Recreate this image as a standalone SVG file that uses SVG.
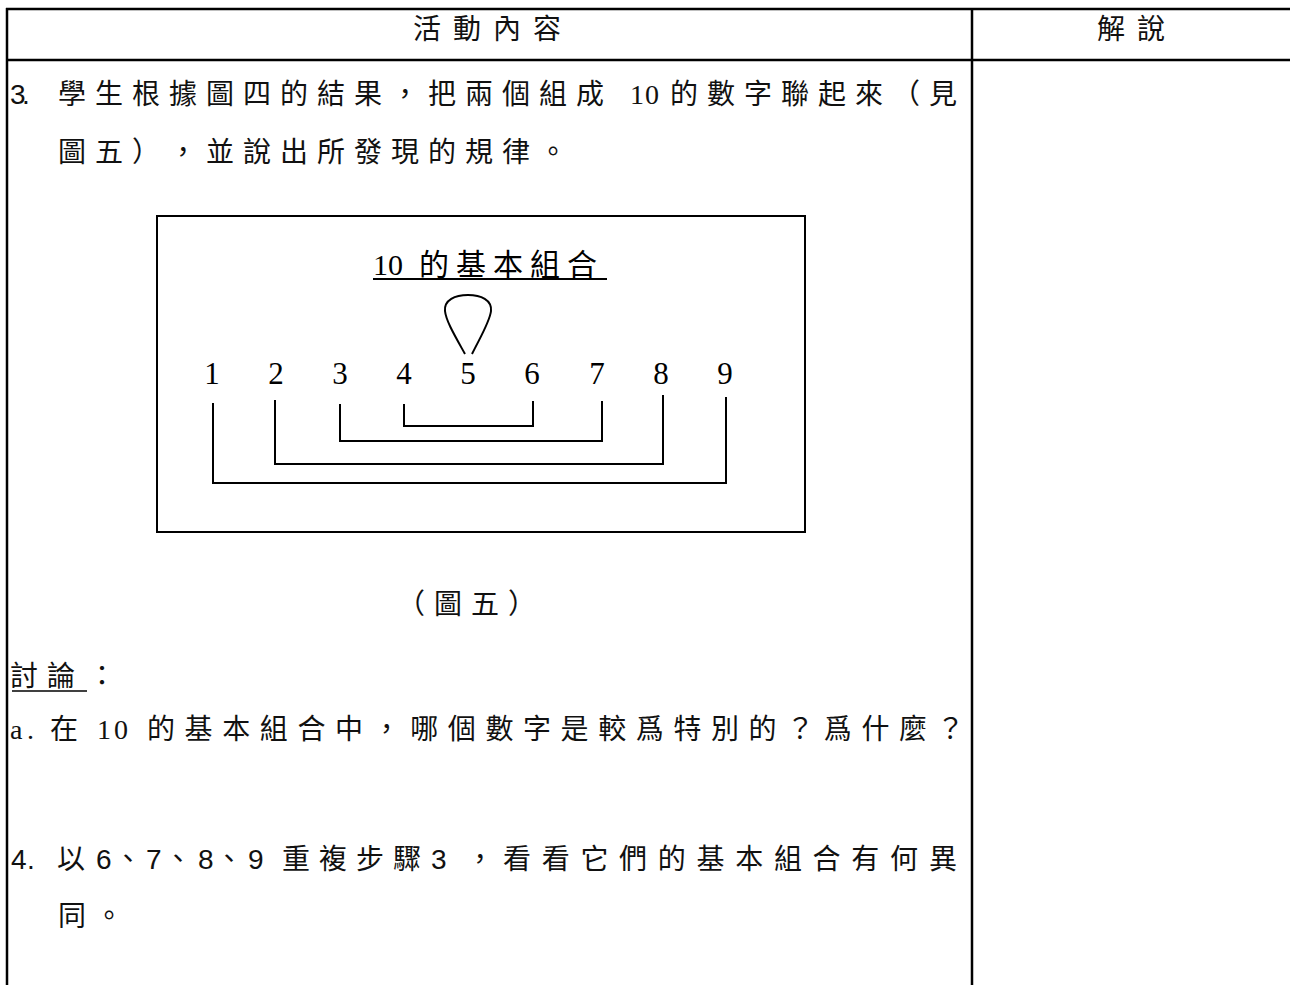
<svg xmlns="http://www.w3.org/2000/svg" width="1290" height="985" viewBox="0 0 1290 985">
<style>
.ln{stroke:#000;fill:none;}
.tb{stroke-width:2.5;}
.fg{stroke-width:2;}
.body{font-family:"Liberation Sans","Noto Sans CJK TC","Noto Sans CJK SC",sans-serif;font-size:28px;fill:#111;}
.hd{font-family:"Liberation Sans","Noto Sans CJK TC",sans-serif;font-size:28px;fill:#111;}
.fig{font-family:"Liberation Serif","Noto Sans CJK TC",serif;fill:#000;}
.ser{font-family:"Liberation Serif","Noto Sans CJK TC",serif;}
</style>
<rect x="0" y="0" width="1290" height="985" fill="#fff"/>
<g id="table">
<line class="ln tb" x1="6" y1="9" x2="1290" y2="9"/>
<line class="ln tb" x1="6" y1="60" x2="1290" y2="60"/>
<line class="ln tb" x1="7" y1="8" x2="7" y2="985"/>
<line class="ln tb" x1="972" y1="8" x2="972" y2="985"/>
</g>
<g id="header">
<text class="hd" x="413 453 493 533" y="39">活動內容</text>
<text class="hd" x="1097 1137" y="39">解說</text>
</g>
<g id="step3">
<text class="body" y="104" x="10 22 40 58 95 132 169 206 243 280 317 354 391 428 465 502 539 576 612 630 645 662 670 707 744 781 818 855 892 929">3. 學生根據圖四的結果，把兩個組成 <tspan class="ser">10</tspan> 的數字聯起來（見</text>
<text class="body" y="162" x="58 95 132 169 206 243 280 317 354 391 428 465 502 539">圖五），並說出所發現的規律。</text>
</g>
<g id="figure5">
<rect class="ln fg" x="157" y="216" width="648" height="316"/>
<text class="fig" font-size="30" x="373" y="275">10</text>
<text class="fig" font-size="30" x="419 456 493 530 567" y="275">的基本組合</text>
<line class="ln fg" x1="373" y1="279" x2="607" y2="279"/>
<path class="ln fg" d="M465,354 C455,336 446,321 445,311 C444,300 455,295 468,295 C481,295 492,300 491,311 C490,321 481,336 472,354"/>
<g class="fig" font-size="31" text-anchor="middle">
<text x="212" y="384">1</text>
<text x="276" y="384">2</text>
<text x="340" y="384">3</text>
<text x="404" y="384">4</text>
<text x="468" y="384">5</text>
<text x="532" y="384">6</text>
<text x="597" y="384">7</text>
<text x="661" y="384">8</text>
<text x="725" y="384">9</text>
</g>
<g id="pairs">
<polyline class="ln fg" points="404,404 404,426 533,426 533,401"/>
<polyline class="ln fg" points="340,404 340,441 602,441 602,401"/>
<polyline class="ln fg" points="275,400 275,464 663,464 663,395"/>
<polyline class="ln fg" points="213,403 213,483 726,483 726,397"/>
</g>
<text class="body" y="614" x="397 434 471 508">（圖五）</text>
</g>
<g id="discussion">
<text class="body" y="686" x="10 47 88">討論：</text>
<line class="ln" stroke-width="1.5" x1="12" y1="691" x2="87" y2="691"/>
<text class="body" y="739" x="10 27 40 50 85 97 114 132 147 184.6 222.2 259.8 297.4 335 372.6 410.2 447.8 485.4 523 560.6 598.2 635.8 673.4 711 748.6 786.2 823.8 861.4 899 936.6"><tspan class="ser">a.</tspan> 在 <tspan class="ser">10</tspan> 的基本組合中，哪個數字是較爲特別的？爲什麼？</text>
</g>
<g id="step4">
<text class="body" y="869" x="11 27 40 57 85 96 114 146 164 198 215 248 268 282 319 356 393 421 431 466 503 541.7 580.4 619.1 657.8 696.5 735.2 773.9 812.6 851.3 890 929">4. 以 6、7、8、9 重複步驟 3，看看它們的基本組合有何異</text>
<text class="body" y="926" x="58 95">同。</text>
</g>
</svg>
